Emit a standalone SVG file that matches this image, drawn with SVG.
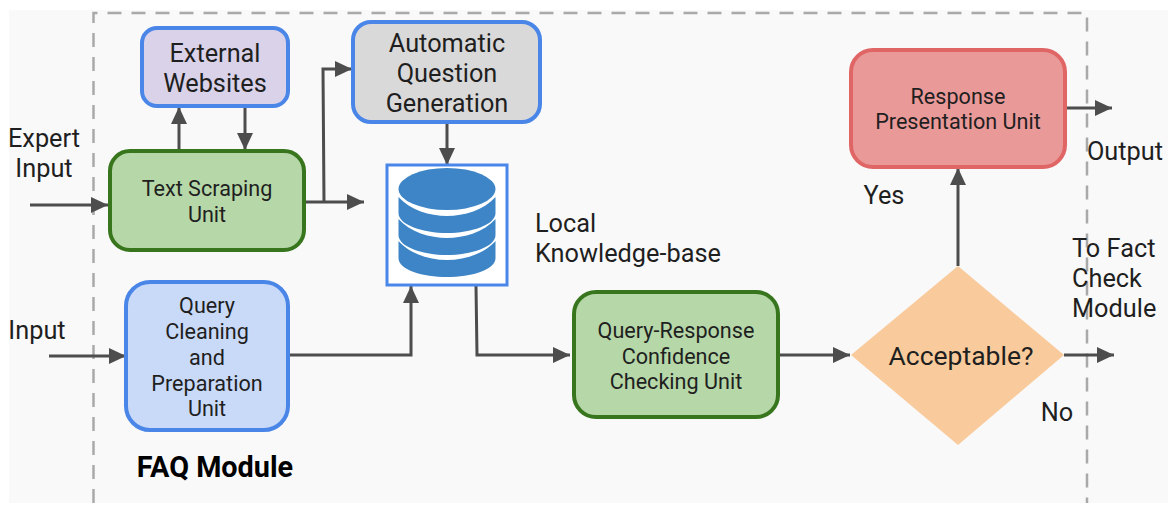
<svg xmlns="http://www.w3.org/2000/svg" width="1172" height="505" viewBox="0 0 1172 505">
<style>
text{font-family:Roboto,"Liberation Sans",sans-serif;fill:#1f1f1f;text-anchor:middle}
.lg{font-size:25.3px}.md{font-size:21.6px}.l{text-anchor:start}
.box{stroke-width:4}.blue{stroke:#4a86e8}.green{stroke:#38761d;fill:#b6d7a8}
.c{fill:none;stroke:#4d4d4d;stroke-width:3;marker-end:url(#a)}
.db{fill:#3d85c6}
</style>
<defs><marker id="a" markerUnits="userSpaceOnUse" markerWidth="18" markerHeight="16" refX="17" refY="8" orient="auto"><path d="M0 0L17 8L0 16Z" fill="#4d4d4d"/></marker></defs>
<rect width="1172" height="505" fill="#fff"/>
<rect x="9" y="10" width="1159" height="493" fill="#f9f9f9"/>
<path id="module-border" d="M93.500 503V13H1087V503" fill="none" stroke="#a9a9a9" stroke-width="2.500" stroke-dasharray="14 10"/>
<g id="connectors">
<path class="c" d="M30 205H108"/>
<path class="c" d="M179 151V107"/>
<path class="c" d="M245 106V150"/>
<path class="c" d="M306 202H364"/>
<path class="c" d="M324 202L323 69H352"/>
<path class="c" d="M447 122V165"/>
<path class="c" d="M49 356H126"/>
<path class="c" d="M288 355H411V286"/>
<path class="c" d="M476 286L477 355H570"/>
<path class="c" d="M778 355H850"/>
<path class="c" d="M958 266V168"/>
<path class="c" d="M1065 108H1112"/>
<path class="c" d="M1064 355H1114"/>
</g>
<g id="external-websites"><rect class="box blue" x="142" y="28" width="146" height="78" rx="15" fill="#d9d2e9"/><text class="lg" x="215" y="62">External</text><text class="lg" x="215" y="92">Websites</text></g>
<g id="question-generation"><rect class="box blue" x="353" y="22" width="187" height="100" rx="18" fill="#d9d9d9"/><text class="lg" x="447" y="52">Automatic</text><text class="lg" x="447" y="82">Question</text><text class="lg" x="447" y="112">Generation</text></g>
<g id="text-scraping"><rect class="box green" x="110" y="151" width="194" height="99" rx="20"/><text class="md" x="207" y="196">Text Scraping</text><text class="md" x="207" y="222">Unit</text></g>
<g id="query-cleaning"><rect class="box blue" x="126" y="282" width="162" height="148" rx="24" fill="#c9daf8"/><text class="md" x="207" y="313">Query</text><text class="md" x="207" y="339">Cleaning</text><text class="md" x="207" y="365">and</text><text class="md" x="207" y="391">Preparation</text><text class="md" x="207" y="416">Unit</text></g>
<g id="knowledge-base"><rect x="387" y="165" width="120" height="120" fill="#fff" stroke="#4a86e8" stroke-width="3"/>
<ellipse class="db" cx="447" cy="189" rx="48.500" ry="21"/>
<path class="db" d="M398.500 197C410 210 430 216 447 216S484 210 495.500 197V213C495.500 225 471 233 447 233S398.500 225 398.500 213Z"/>
<path class="db" d="M398.500 219C410 232 430 238 447 238S484 232 495.500 219V235C495.500 247 471 255 447 255S398.500 247 398.500 235Z"/>
<path class="db" d="M398.500 241C410 254 430 260 447 260S484 254 495.500 241V258C495.500 270 471 277 447 277S398.500 270 398.500 258Z"/>
<text class="lg l" x="535" y="232">Local</text><text class="lg l" x="535" y="262">Knowledge-base</text></g>
<g id="confidence-check"><rect class="box green" x="574" y="292" width="204" height="125" rx="22"/><text class="md" x="676" y="338">Query-Response</text><text class="md" x="676" y="364">Confidence</text><text class="md" x="676" y="389">Checking Unit</text></g>
<g id="response-presentation"><rect class="box" x="851" y="50" width="214" height="117" rx="22" fill="#ea9999" stroke="#e06666"/><text class="md" x="958" y="104">Response</text><text class="md" x="958" y="129">Presentation Unit</text></g>
<g id="acceptable"><polygon points="958,266 1064,355 958,445 851,355" fill="#f9cb9c"/><text x="961" y="365" font-size="26.500">Acceptable?</text></g>
<g id="labels">
<text class="lg" x="44" y="147">Expert</text><text class="lg" x="44" y="177">Input</text>
<text class="lg" x="37" y="339">Input</text>
<text class="lg" x="1125" y="160">Output</text>
<text class="lg" x="884" y="204">Yes</text>
<text class="lg l" x="1072" y="257">To Fact</text><text class="lg l" x="1072" y="287">Check</text><text class="lg l" x="1072" y="317">Module</text>
<text class="lg" x="1057" y="421">No</text>
<text x="215" y="477" font-size="28.800" font-weight="700" style="fill:#000">FAQ Module</text>
</g>
</svg>
